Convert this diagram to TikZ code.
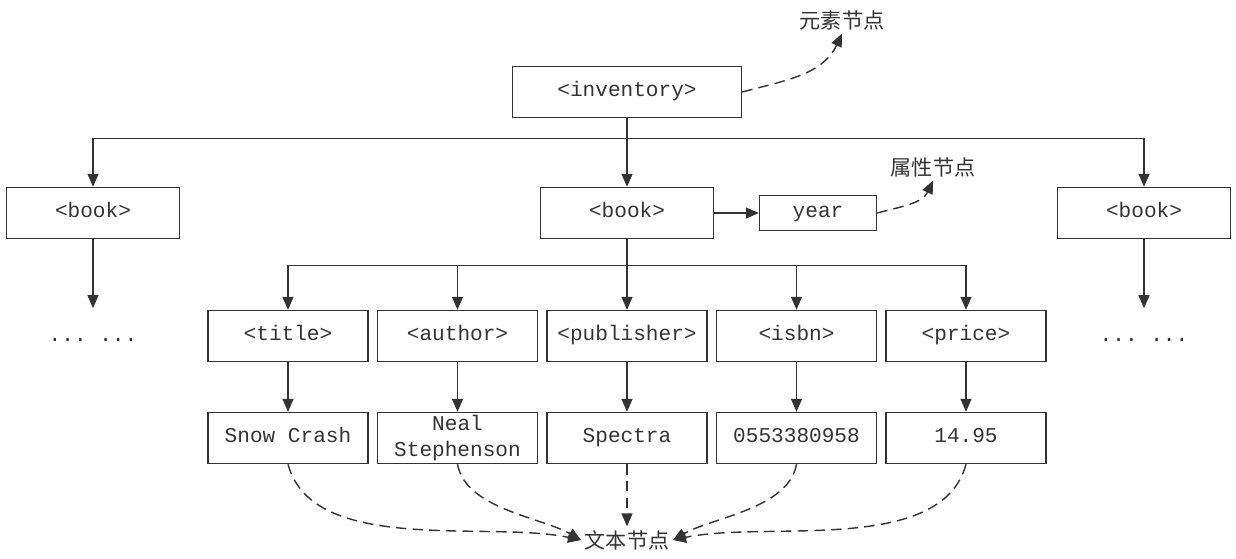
\documentclass[tikz,border=0pt]{standalone}
\usepackage{fontspec}
\setmonofont{Liberation Mono}
\newfontfamily\cjkfont{Noto Sans CJK SC}
\usetikzlibrary{arrows.meta}

\tikzset{
	tagbox/.style={draw=black!80, line width=0.8pt, inner sep=2pt, minimum height=1.02cm, align=center,
		text height=0.72em, text depth=0.2em,
		font=\ttfamily\fontsize{12}{14.5}\selectfont, text=black!80},
	oneline/.style={},
	twolines/.style={text height=, text depth=, inner ysep=0.5pt},
	kindlabel/.style={inner sep=2pt, font=\cjkfont\fontsize{12}{14}\selectfont, text=black!80},
	moredots/.style={inner sep=0pt, text height=0.65cm, anchor=base,
		font=\ttfamily\fontsize{12}{14.5}\selectfont, text=black!80},
	arr/.style={draw=black!80, line width=0.8pt, -{Triangle[length=2.6mm,width=2.2mm]}},
	darr/.style={arr, dash pattern=on 6pt off 3.5pt}
}

\begin{document}
\begin{tikzpicture}
	\useasboundingbox (0, 0) rectangle (24.72, -11.16);
	
	\node [tagbox, minimum width=4.58cm] (inventory) at (12.54, -1.84) {<inventory>};
	\node [kindlabel] (elem-kind) at (16.84, -0.40) {元素节点};
	
	\node [tagbox, minimum width=3.46cm] (book-left) at (1.86, -4.26) {<book>};
	\node [tagbox, minimum width=3.46cm] (book) at (12.54, -4.26) {<book>};
	\node [tagbox, minimum width=3.46cm] (book-right) at (22.88, -4.26) {<book>};
	\node [tagbox, minimum width=2.34cm, minimum height=0.7cm] (year) at (16.36, -4.26) {year};
	\node [kindlabel] (attr-kind) at (18.66, -3.34) {属性节点};
	
	\node [moredots] (more-left) at (1.86, -6.82) {... ...};
	\node [moredots] (more-right) at (22.88, -6.82) {... ...};
	
	\draw [arr] (inventory.south) -- (book.north);
	\foreach \nm in {book-left, book-right}
	\draw [arr] (inventory.south) -- ++(0, -0.4) -| (\nm.north);
	\draw [arr] (book-left) -- (more-left.north);
	\draw [arr] (book-right) -- (more-right.north);
	\draw [arr] (book) -- (year);
	
	\draw [darr] (inventory.east) to [out=15, in=-115] (elem-kind.south);
	\draw [darr] (year.east) to [out=15, in=-115] (attr-kind.south);
	
	% child elements and their text
	\foreach \nm/\tg/\val/\opt [count=\i from 0] in {title/title/Snow Crash/oneline,
		author/author/{Neal\\Stephenson}/twolines,
		publisher/publisher/Spectra/oneline, isbn/isbn/0553380958/oneline, price/price/14.95/oneline}
	{
		\node [tagbox, minimum width=3.2cm] (\nm) at (5.76 + 3.39*\i, -6.72) {<\tg>};
		\node [tagbox, minimum width=3.2cm, \opt] (\nm-text) at (5.76 + 3.39*\i, -8.76) {\val};
		\draw [arr] (\nm) -- (\nm-text);
	}
	
	\draw [arr] (book.south) -- (publisher.north);
	\foreach \nm in {title, author, isbn, price}
	\draw [arr] (book.south) -- ++(0, -0.53) -| (\nm.north);
	
	\node [kindlabel] (text-kind) at (12.54, -10.80) {文本节点};
	
	\draw [darr] (publisher-text) -- (text-kind);
	\draw [darr] (title-text.south) to [out=-75, in=168, looseness=0.8] (text-kind.west);
	\draw [darr] (author-text.south) to [out=-80, in=150, looseness=0.8] (text-kind.west);
	\draw [darr] (isbn-text.south) to [out=-100, in=30, looseness=0.8] (text-kind.east);
	\draw [darr] (price-text.south) to [out=-105, in=12, looseness=0.8] (text-kind.east);
\end{tikzpicture}
\end{document}
